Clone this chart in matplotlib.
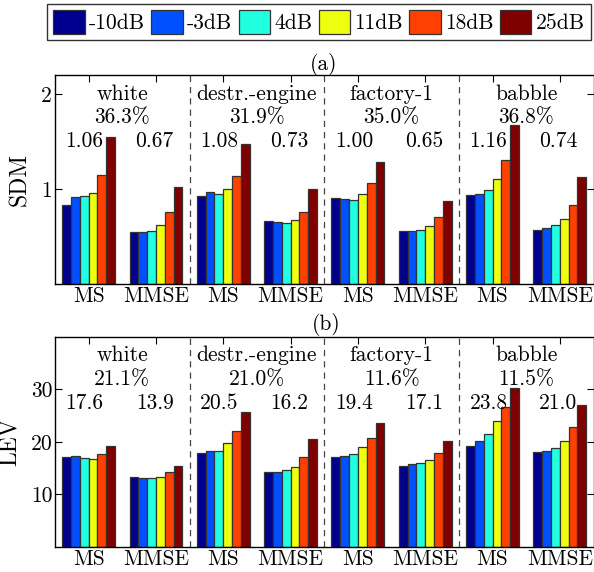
import matplotlib
matplotlib.use("Agg")
import matplotlib.pyplot as plt
import matplotlib.transforms as mtransforms
import numpy as np

plt.rcParams["font.family"] = ["cmr10", "DejaVu Serif"]
plt.rcParams["axes.formatter.use_mathtext"] = True
plt.rcParams["mathtext.fontset"] = "cm"

noise_types = ["white", "destr.-engine", "factory-1", "babble"]
methods = ["MS", "MMSE"]
snr_labels = ["-10dB", "-3dB", "4dB", "11dB", "18dB", "25dB"]
snr_colors = ["#00008f", "#0050ff", "#20ffdf", "#efff10", "#ff4000", "#800000"]

# SDM, per noise type, per SNR
sdm_ms = [
    [0.83, 0.92, 0.926, 0.958, 1.147, 1.544],
    [0.926, 0.965, 0.947, 0.996, 1.133, 1.47],
    [0.909, 0.891, 0.884, 0.944, 1.06, 1.288],
    [0.94, 0.944, 0.986, 1.105, 1.302, 1.67],
]
sdm_mmse = [
    [0.544, 0.544, 0.558, 0.625, 0.758, 1.021],
    [0.667, 0.649, 0.639, 0.674, 0.754, 1.0],
    [0.561, 0.561, 0.572, 0.614, 0.709, 0.874],
    [0.572, 0.589, 0.617, 0.684, 0.832, 1.123],
]
sdm_mean_ms = ["1.06", "1.08", "1.00", "1.16"]
sdm_mean_mmse = ["0.67", "0.73", "0.65", "0.74"]
sdm_gain = ["36.3%", "31.9%", "35.0%", "36.8%"]

# LEV, per noise type, per SNR
lev_ms = [
    [17.1, 17.3, 16.9, 16.7, 17.6, 19.3],
    [17.8, 18.3, 18.25, 19.7, 22.1, 25.7],
    [17.2, 17.3, 17.7, 19.0, 20.8, 23.5],
    [19.3, 20.2, 21.5, 23.9, 26.7, 30.2],
]
lev_mmse = [
    [13.3, 13.1, 13.2, 13.4, 14.2, 15.5],
    [14.2, 14.2, 14.6, 15.3, 17.2, 20.6],
    [15.5, 15.7, 16.0, 16.6, 17.9, 20.2],
    [18.0, 18.2, 18.8, 20.2, 22.8, 27.1],
]
lev_mean_ms = ["17.6", "20.5", "19.4", "23.8"]
lev_mean_mmse = ["13.9", "16.2", "17.1", "21.0"]
lev_gain = ["21.1%", "21.0%", "11.6%", "11.5%"]

W, H = 594, 572
fig = plt.figure(figsize=(W / 100, H / 100), dpi=100)
ax_a = fig.add_axes([55 / W, 1 - 284 / H, 538.5 / W, 209 / H])
ax_b = fig.add_axes([55 / W, 1 - 547 / H, 538.5 / W, 210.3 / H])

FS = 15.5
bar_w = 0.131


def draw_panel(ax, ms, mmse, mean_ms, mean_mmse, gain, ylim, yticks, ylabel):
    handles = []
    for k, name in enumerate(noise_types):
        x_ms = 2 * k + 1
        x_mmse = 2 * k + 2
        for i in range(len(snr_labels)):
            off = (i - 2.5) * bar_w
            b = ax.bar(x_ms + off, ms[k][i], bar_w, color=snr_colors[i],
                       edgecolor="#333333", linewidth=0.9, zorder=2)
            ax.bar(x_mmse + off, mmse[k][i], bar_w, color=snr_colors[i],
                   edgecolor="#333333", linewidth=0.9, zorder=2)
            if k == 0:
                handles.append(b)
        trans = mtransforms.blended_transform_factory(ax.transData, ax.transAxes)
        ax.text(x_ms + 0.5, 0.91, name, transform=trans, ha="center", va="center", fontsize=FS)
        ax.text(x_ms + 0.5, 0.795, gain[k], transform=trans, ha="center", va="center", fontsize=FS)
        ax.text(x_ms - 0.06, 0.685, mean_ms[k], transform=trans, ha="center", va="center", fontsize=FS)
        ax.text(x_mmse - 0.02, 0.685, mean_mmse[k], transform=trans, ha="center", va="center", fontsize=FS)
        if k > 0:
            ax.axvline(2 * k + 0.5, color="#444444", linestyle=(0, (5, 4)), linewidth=0.9, zorder=1)

    ax.set_xlim(0.5, 8.5)
    ax.set_ylim(*ylim)
    ax.set_xticks(np.arange(1, 9))
    ax.set_xticklabels(methods * 4, fontsize=FS)
    ax.set_yticks(yticks)
    ax.set_yticklabels([str(t) for t in yticks], fontsize=FS)
    ax.tick_params(direction="in", top=True, right=True, length=5, width=0.8, pad=2)
    ax.set_ylabel(ylabel, fontsize=FS + 1.5, labelpad=7)
    for s in ax.spines.values():
        s.set_linewidth(1.0)
    return handles


handles = draw_panel(ax_a, sdm_ms, sdm_mmse, sdm_mean_ms, sdm_mean_mmse, sdm_gain,
                     (0, 2.2), [1, 2], "SDM")
draw_panel(ax_b, lev_ms, lev_mmse, lev_mean_ms, lev_mean_mmse, lev_gain,
           (0, 40), [10, 20, 30], "LEV")

fig.text(324 / W, 1 - 64 / H, "(a)", ha="center", va="center", fontsize=FS)
fig.text(326 / W, 1 - 325 / H, "(b)", ha="center", va="center", fontsize=FS)

leg = fig.legend(handles, snr_labels, loc="center", ncol=6,
                 bbox_to_anchor=(319 / W, 1 - 22 / H),
                 fontsize=FS, frameon=True, fancybox=False, edgecolor="black",
                 handlelength=1.45, handleheight=1.3, handletextpad=0.2,
                 columnspacing=0.3, borderpad=0.3, borderaxespad=0)
leg.get_frame().set_linewidth(1.0)

fig.savefig("out.png", dpi=100)
